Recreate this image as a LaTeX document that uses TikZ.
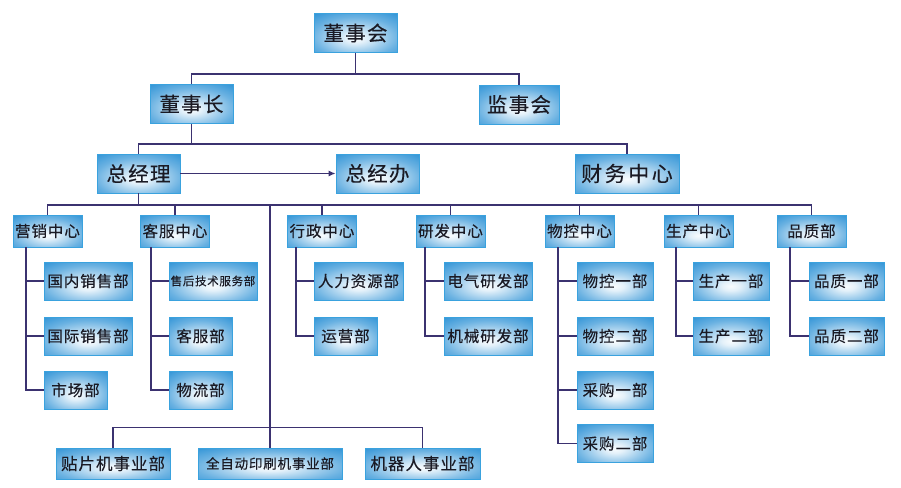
\documentclass[tikz,border=0pt]{standalone}
\usepackage{fontspec}
\newfontfamily\cjk[LetterSpace=6,FakeBold=0.3]{Noto Sans CJK SC}
\usetikzlibrary{arrows.meta}
\definecolor{boxblue}{HTML}{1A88D2}
\definecolor{boxedge}{HTML}{3AA2DE}
\definecolor{linecol}{HTML}{3B3270}
\definecolor{txtcol}{HTML}{1A1A24}
\pgfdeclareradialshading{boxshade}{\pgfpoint{0bp}{-7bp}}{%
  color(0bp)=(white!97!boxblue);
  color(6bp)=(white!88!boxblue);
  color(26bp)=(white!35!boxblue);
  color(44bp)=(boxblue);
  color(100bp)=(boxblue)}
\tikzset{
  orgbox/.style={shading=boxshade, draw=boxedge, line width=0.6pt,
    inner sep=0pt, text=txtcol, font=\cjk, anchor=center},
  fa/.style={font=\cjk\fontsize{20.5}{22}\selectfont},
  fb/.style={font=\cjk\fontsize{15.5}{18}\selectfont},
  fc/.style={font=\cjk\fontsize{15.5}{18}\selectfont},
  conn/.style={draw=linecol, line width=1.5pt},
  big/.style={orgbox, fa, minimum width=83pt, minimum height=39pt},
  mid/.style={orgbox, fb, minimum width=69pt, minimum height=32pt},
  sub/.style={orgbox, fc, minimum height=38pt},
}
\begin{document}
\begin{tikzpicture}[x=1pt,y=-1pt]
\useasboundingbox (0,0) rectangle (901,487);
% level 1
\node[big] (dsh) at (355.5,33) {董事会};
\node[big] (dsz) at (191.5,104) {董事长};
\node[big, minimum width=80pt] (jsh) at (519,104.5) {监事会};
\node[big] (zjl) at (138.5,173.5) {总经理};
\node[big] (zjb) at (377.5,173.5) {总经办};
\node[big, minimum width=104pt, font=\cjk\fontsize{21}{24}\selectfont\addfontfeature{LetterSpace=12}] (cw) at (627,173.5) {财务中心};
% level 2
\node[mid] (yx) at (47.5,231) {营销中心};
\node[mid] (kf) at (175,231) {客服中心};
\node[mid] (xz) at (322,231) {行政中心};
\node[mid] (yf) at (450.5,231) {研发中心};
\node[mid] (wk) at (579.5,231) {物控中心};
\node[mid] (sc) at (698.5,231) {生产中心};
\node[mid] (pz) at (811.5,231) {品质部};
% children
\node[sub, minimum width=88pt] (gn) at (88,281) {国内销售部};
\node[sub, minimum width=88pt] (gj) at (88,336) {国际销售部};
\node[sub, minimum width=63pt] (scb) at (75.5,390) {市场部};
\node[sub, minimum width=88pt, font=\cjk\fontsize{11.5}{14}\selectfont] (sh) at (213,281) {售后技术服务部};
\node[sub, minimum width=63pt] (kfb) at (200.5,336) {客服部};
\node[sub, minimum width=63pt] (wl) at (200.5,390) {物流部};
\node[sub, minimum width=89pt] (rl) at (358.5,281) {人力资源部};
\node[sub, minimum width=63pt] (yy) at (345.5,336) {运营部};
\node[sub, minimum width=88pt] (dq) at (488,281) {电气研发部};
\node[sub, minimum width=88pt] (jx) at (488,336) {机械研发部};
\node[sub, minimum width=76pt] (wk1) at (615,281) {物控一部};
\node[sub, minimum width=76pt] (wk2) at (615,336) {物控二部};
\node[sub, minimum width=76pt] (cg1) at (615,390) {采购一部};
\node[sub, minimum width=76pt] (cg2) at (615,443.5) {采购二部};
\node[sub, minimum width=76pt] (sc1) at (731,281) {生产一部};
\node[sub, minimum width=76pt] (sc2) at (731,336) {生产二部};
\node[sub, minimum width=75pt] (pz1) at (846.5,281) {品质一部};
\node[sub, minimum width=75pt] (pz2) at (846.5,336) {品质二部};
% bottom
\node[orgbox, minimum width=114pt, minimum height=31pt, font=\cjk\fontsize{16.5}{18}\selectfont] (tp) at (113,463.5) {贴片机事业部};
\node[orgbox, minimum width=144pt, minimum height=31pt, font=\cjk\fontsize{13.5}{16}\selectfont] (qzd) at (270,463.5) {全自动印刷机事业部};
\node[orgbox, minimum width=115pt, minimum height=31pt, font=\cjk\fontsize{16.5}{18}\selectfont] (jqr) at (422.5,463.5) {机器人事业部};
% bus coordinates
\coordinate (b1) at (355.5,74);
\coordinate (b2) at (191.5,144);
\coordinate (b3) at (138.5,205);
\coordinate (b3b) at (270,205);
\coordinate (b4) at (270,427.5);
% connectors level 1
\draw[conn] (dsh.south) -- (b1);
\draw[conn] (dsz.north) |- (b1) -| (jsh.north);
\draw[conn] (dsz.south) -- (b2);
\draw[conn] (zjl.north) |- (b2) -| (cw.north);
\draw[conn, -{Latex[length=7pt,width=6pt]}] (zjl.east) -- (zjb.west);
% level 2
\draw[conn] (zjl.south) -- (b3);
\draw[conn] (yx.north) |- (b3) -| (pz.north);
\foreach \n in {kf,xz,yf,wk,sc} \draw[conn] (\n.north) -- (\n.north |- b3);
\draw[conn] (b3b) -- (qzd.north);
\draw[conn] (tp.north) |- (b4) -| (jqr.north);
% children connectors
\draw[conn] (yx.south -| 26,0) |- (scb.west);
\draw[conn] (gn.west) -- (gn.west -| 26,0);
\draw[conn] (gj.west) -- (gj.west -| 26,0);
\draw[conn] (kf.south -| 151,0) |- (wl.west);
\draw[conn] (sh.west) -- (sh.west -| 151,0);
\draw[conn] (kfb.west) -- (kfb.west -| 151,0);
\draw[conn] (xz.south -| 296,0) |- (yy.west);
\draw[conn] (rl.west) -- (rl.west -| 296,0);
\draw[conn] (yf.south -| 425,0) |- (jx.west);
\draw[conn] (dq.west) -- (dq.west -| 425,0);
\draw[conn] (wk.south -| 558,0) |- (cg2.west);
\draw[conn] (wk1.west) -- (wk1.west -| 558,0);
\draw[conn] (wk2.west) -- (wk2.west -| 558,0);
\draw[conn] (cg1.west) -- (cg1.west -| 558,0);
\draw[conn] (sc.south -| 676,0) |- (sc2.west);
\draw[conn] (sc1.west) -- (sc1.west -| 676,0);
\draw[conn] (pz.south -| 790,0) |- (pz2.west);
\draw[conn] (pz1.west) -- (pz1.west -| 790,0);
\end{tikzpicture}
\end{document}
